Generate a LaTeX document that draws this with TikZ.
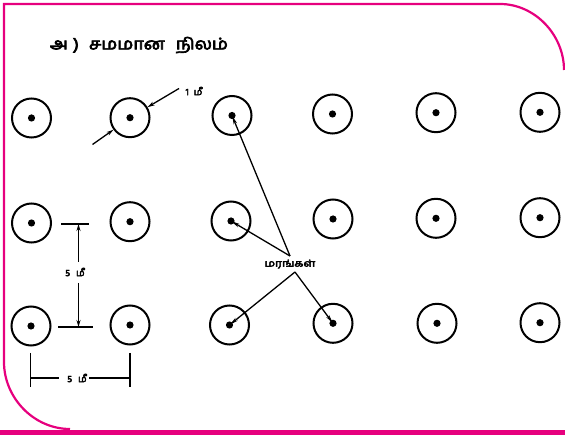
\documentclass[tikz,border=0pt]{standalone}
\usepackage{fontspec}
\newfontfamily\tamil[Script=Tamil,FakeBold=4]{Hind Madurai}
\usetikzlibrary{arrows.meta}
\definecolor{mag}{RGB}{230,0,126}
\begin{document}
\begin{tikzpicture}[x=1pt,y=-1pt,
  tree/.style={circle,draw,line width=2pt,minimum size=39pt,inner sep=0pt},
  frame/.style={draw=mag,line width=2.2pt},
  lbl/.style={font=\tamil\fontsize{9.5}{11}\selectfont,inner sep=1pt},
  dim/.style={line width=1.5pt},
  dimarrow/.style={line width=1.3pt,-{Stealth[length=7pt,width=4pt]}},
  pointer/.style={line width=1.3pt,-{Stealth[length=9pt,width=3.5pt]}}]
\useasboundingbox (0,0) rectangle (565,435);
% frame
\draw[frame] (564,70) .. controls (564,35) and (535,4) .. (500,4) -- (4,4) -- (4,362) .. controls (4,398) and (34,429) .. (70,429);
\fill[mag] (0,430) rectangle (565,435);
% title
\node[font=\tamil\fontsize{16}{18}\selectfont,inner sep=0pt] (title) at (139,45)
  {\scalebox{1.12}[1]{அ\hspace{5pt})\hspace{9pt}சமமான\hspace{10pt}நிலம்}};
% trees
\foreach \n/\x/\y in {11/31.5/118, 12/130/117.7, 13/232/115.5, 14/332.5/114, 15/436/112.7, 16/540/112.3,
  21/31.5/223, 22/130/221.7, 23/231/221, 24/333/219, 25/436/218.3, 26/540/217.7,
  31/31/326, 32/130/325, 33/229.5/325, 34/333/323.3, 35/437/323.3, 36/540/322.7}
{ \node[tree] (t\n) at (\x,\y) {}; \fill (t\n) circle (3.6); }
% 1 m diameter
\coordinate (d1a) at (179,88.5);
\coordinate (d1b) at (92.5,144.5);
\node[lbl] (onem) at (194,91) {\textit{1}\hspace{5pt}மீ};
\draw[dimarrow] (d1a) -- (t12.31);
\draw[dimarrow] (d1b) -- (t12.216);
% trees label
\node[lbl] (trees) at (290,264) {\scalebox{1.25}[1]{மரங்கள்}};
\coordinate (up) at (290,256);
\coordinate (dn) at (295,272);
\draw[pointer] (up) -- (t13.center);
\draw[pointer] (up) -- (t23.center);
\draw[pointer] (dn) -- (t33.center);
\draw[pointer] (dn) -- (t34.center);
% vertical 5 m
\coordinate (vt1) at (61,224); \coordinate (vt2) at (89,224);
\coordinate (vb1) at (58,327); \coordinate (vb2) at (93,327);
\draw[dim] (vt1) -- (vt2);
\draw[dim] (vb1) -- (vb2);
\node[lbl] (fivev) at (75,272) {5\hspace{6pt}மீ};
\coordinate (vtop) at (78.5,224); \coordinate (vbot) at (78.5,327);
\coordinate (vm1) at (78.5,262); \coordinate (vm2) at (78.5,283);
\draw[dimarrow] (vm1) -- (vtop);
\draw[dimarrow] (vm2) -- (vbot);
% horizontal 5 m
\coordinate (hl1) at (30.7,353); \coordinate (hl2) at (30.7,387);
\coordinate (hr1) at (130,353); \coordinate (hr2) at (130,387);
\draw[dim] (hl1) -- (hl2);
\draw[dim] (hr1) -- (hr2);
\node[lbl] (fiveh) at (77,378) {5\hspace{6pt}மீ};
\coordinate (hla) at (30.7,378); \coordinate (hlb) at (59,378);
\coordinate (hra) at (89,378); \coordinate (hrb) at (130,378);
\draw[dim] (hla) -- (hlb);
\draw[dim] (hra) -- (hrb);
\end{tikzpicture}
\end{document}
